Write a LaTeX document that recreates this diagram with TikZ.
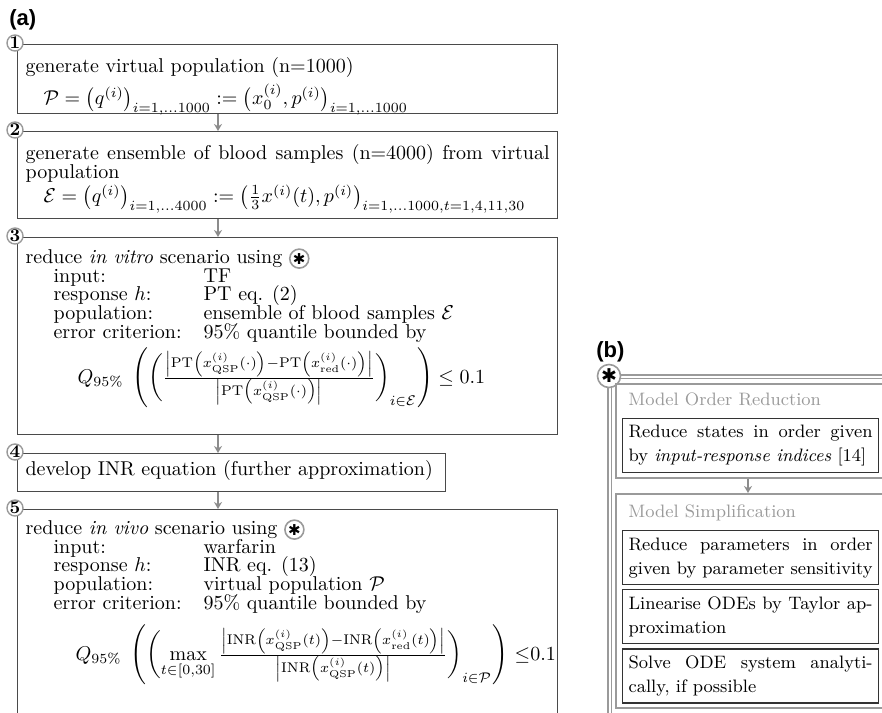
\documentclass[tikz,border=0pt]{standalone}
\usepackage{amsmath}
\usepackage{fontspec}
\usetikzlibrary{arrows.meta,positioning}
\newfontfamily\symfont{DejaVu Sans}
\newfontfamily\panelfont{Liberation Sans}
\definecolor{framegray}{HTML}{9A9A9A}
\definecolor{boxgray}{HTML}{4A4A4A}
\definecolor{arrowgray}{HTML}{8C8C8C}
% tight lines inside the steps of (a)
\newcommand{\stagefont}{\fontsize{10}{9.3}\selectfont\setlength{\lineskiplimit}{-2pt}}
% circled star used inside the text of steps 3 and 5
\newcommand{\starmark}{\tikz[baseline={([yshift=-2.5pt]m.center)}]
  \node[circle, draw=framegray, line width=0.8pt, fill=white, inner sep=0pt,
    minimum width=0pt, minimum height=0pt, text width={}, text height={}, text depth={},
    align=center, anchor=center, minimum size=9.5pt,
    font=\symfont\fontsize{7.5}{7.5}\selectfont] (m) {✱};}
\newcommand{\critline}[2]{\hspace*{14pt}\makebox[75pt][l]{#1}#2}

\begin{document}
\begin{tikzpicture}[x=0.5pt, y=-0.5pt]
\tikzset{
  stage/.style={draw=boxgray, line width=0.6pt, anchor=north west, text width=262pt,
    inner xsep=4pt, inner ysep=0pt, align=justify, font=\stagefont},
  stepnum/.style={circle, draw=framegray, line width=0.7pt, fill=white, inner sep=0pt,
    minimum size=8pt, font=\bfseries\fontsize{9}{9}\selectfont},
  flow/.style={draw=arrowgray, line width=0.6pt, -{Stealth[length=3.5pt, width=4pt]}},
  panellabel/.style={anchor=west, inner sep=0pt, font=\panelfont\bfseries\fontsize{11}{11}\selectfont},
  stagegroup/.style={draw=framegray, line width=0.9pt, anchor=north west, inner sep=0pt},
  grouptitle/.style={anchor=base west, inner sep=0pt, text=framegray, font=\fontsize{9}{9}\selectfont},
  method/.style={draw=black!80, line width=0.6pt, text width=122pt, inner xsep=3pt,
    inner ysep=0pt, minimum height=27pt, align=justify, font=\fontsize{9}{12}\selectfont}
}
\useasboundingbox (0,0) rectangle (882,712);
\clip (0,0) rectangle (882,712);

% (a) workflow
\node[panellabel] (la) at (9,20) {(a)};
\node[stage, text height=14pt, text depth=20.5pt] (s1) at (17,44) {generate virtual population (n=1000)\\[2pt]
  \hspace*{9pt}$\mathcal{P}=\bigl(q^{(i)}\bigr)_{i=1,\ldots 1000}:=\bigl(x_0^{(i)},p^{(i)}\bigr)_{i=1,\ldots 1000}$};
\node[stage, text height=14pt, text depth=29.5pt] (s2) at (17,131) {generate ensemble of blood samples (n=4000) from virtual\linebreak population\\[3pt]
  \hspace*{9pt}$\mathcal{E}=\bigl(q^{(i)}\bigr)_{i=1,\ldots 4000}:=\bigl(\tfrac{1}{3}x^{(i)}(t),p^{(i)}\bigr)_{i=1,\ldots 1000,t=1,4,11,30}$};
\node[stage, text height=13pt, text depth=85.5pt] (s3) at (17,237) {reduce \emph{in vitro} scenario using \starmark\\
  \critline{input:}{TF}\\
  \critline{response $h$:}{PT eq. (2)}\\
  \critline{population:}{ensemble of blood samples $\mathcal{E}$}\\
  \critline{error criterion:}{95\% quantile bounded by}\\[2pt]
  \hspace*{26pt}$Q_{95\%}\;\left(\left(\frac{\left|\mathrm{PT}\left(x^{(i)}_{\mathrm{QSP}}(\cdot)\right)-\mathrm{PT}\left(x^{(i)}_{\mathrm{red}}(\cdot)\right)\right|}{\left|\mathrm{PT}\left(x^{(i)}_{\mathrm{QSP}}(\cdot)\right)\right|}\right)_{i\in\mathcal{E}}\right)\leq 0.1$};
\node[stage, text width=206pt, text height=11pt, text depth=8pt] (s4) at (17,453) {develop INR equation (further approximation)};
\node[stage, text height=12.5pt, text depth=95pt] (s5) at (17,509) {reduce \emph{in vivo} scenario using \starmark\\
  \critline{input:}{warfarin}\\
  \critline{response $h$:}{INR eq. (13)}\\
  \critline{population:}{virtual population $\mathcal{P}$}\\
  \critline{error criterion:}{95\% quantile bounded by}\\[5pt]
  \hspace*{25pt}$Q_{95\%}\;\left(\left(\max\limits_{t\in[0,30]}\frac{\left|\mathrm{INR}\left(x^{(i)}_{\mathrm{QSP}}(t)\right)-\mathrm{INR}\left(x^{(i)}_{\mathrm{red}}(t)\right)\right|}{\left|\mathrm{INR}\left(x^{(i)}_{\mathrm{QSP}}(t)\right)\right|}\right)_{i\in\mathcal{P}}\right)\,{\leq}0.1$};

\node[stepnum] (n1) at ([xshift=-1pt, yshift=0.5pt]s1.north west) {1};
\node[stepnum] (n2) at ([xshift=-1pt, yshift=0.5pt]s2.north west) {2};
\node[stepnum] (n3) at ([xshift=-1pt, yshift=0.5pt]s3.north west) {3};
\node[stepnum] (n4) at ([xshift=-1pt, yshift=0.5pt]s4.north west) {4};
\node[stepnum] (n5) at ([xshift=-1pt, yshift=0.5pt]s5.north west) {5};

\draw[flow] ([xshift=100.5pt]s1.south west) -- ([xshift=100.5pt]s2.north west);
\draw[flow] ([xshift=100.5pt]s2.south west) -- ([xshift=100.5pt]s3.north west);
\draw[flow] ([xshift=100.5pt]s3.south west) -- ([xshift=100.5pt]s4.north west);
\draw[flow] ([xshift=100.5pt]s4.south west) -- ([xshift=100.5pt]s5.north west);

% (b) reduction method
\node[panellabel] (lb) at (596,352) {(b)};
\node[draw=framegray, line width=0.7pt, double, double distance=1.2pt, anchor=north west,
  minimum width=160pt, minimum height=200pt] (frame) at (609,376) {};
\node[circle, draw=framegray, line width=0.8pt, fill=white, inner sep=0pt, minimum size=11.5pt,
  font=\symfont\fontsize{9.5}{9.5}\selectfont] (star) at (frame.north west) {✱};

\node[stagegroup, minimum width=140pt, minimum height=47pt] (mor) at (615,383) {};
\node[grouptitle] (mort) at (628,405) {Model Order Reduction};
\node[method, anchor=north west] (m1) at (622,418) {Reduce states in order given\linebreak by \emph{input-response indices} [14]};

\node[stagegroup, minimum width=140pt, minimum height=107pt] (ms) at (615,493) {};
\node[grouptitle] (mst) at (628,517) {Model Simplification};
\node[method, anchor=north west] (m2) at (622,530) {Reduce parameters in order\linebreak given by parameter sensitivity};
\node[method, below=2pt of m2] (m3) {Linearise ODEs by Taylor ap-\linebreak proximation};
\node[method, below=2pt of m3] (m4) {Solve ODE system analyti-\linebreak cally, if possible};

\draw[flow] ([xshift=66.5pt]mor.south west) -- ([xshift=66.5pt]ms.north west);
\end{tikzpicture}
\end{document}
